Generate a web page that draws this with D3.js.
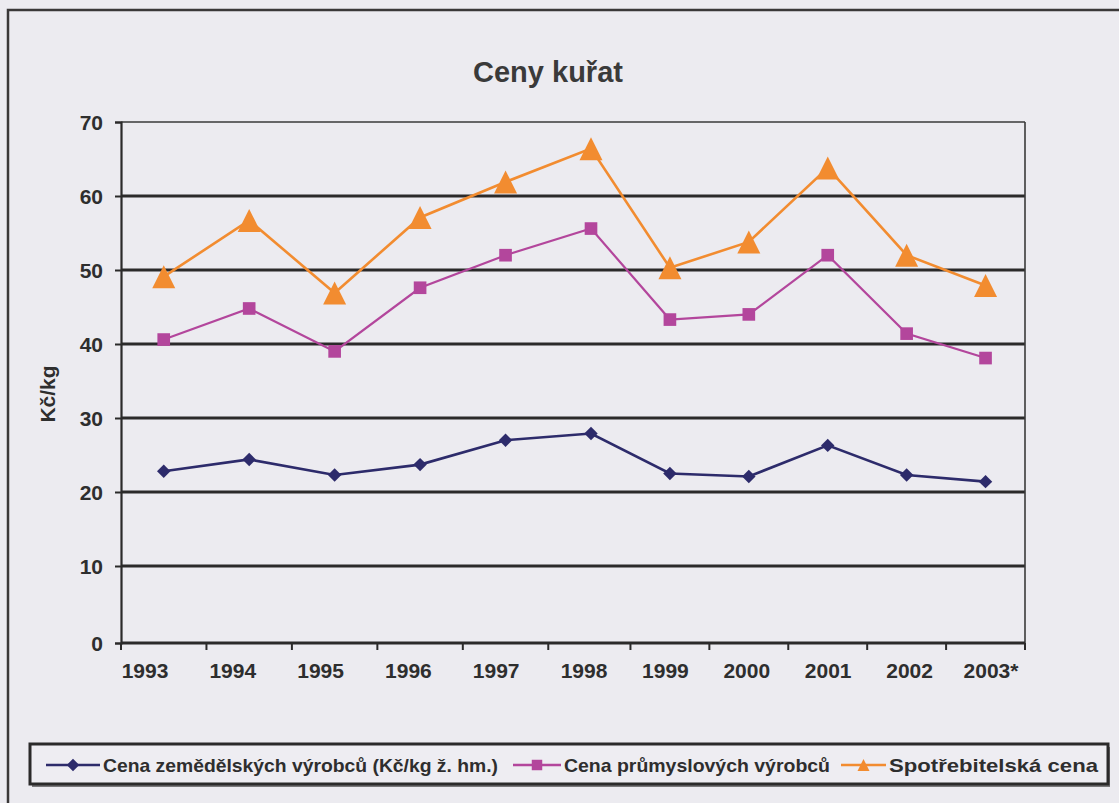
<!DOCTYPE html>
<html><head><meta charset="utf-8">
<script src="https://cdn.jsdelivr.net/npm/d3@7"></script>
<style>
html,body{margin:0;padding:0;background:#ecebf0;}
svg{display:block;font-family:"Liberation Sans",Arial,sans-serif;}
</style></head>
<body>
<svg id="c" width="1119" height="803"></svg>
<script>
const years = ["1993","1994","1995","1996","1997","1998","1999","2000","2001","2002","2003*"];
const zemedelske = [22.8,24.4,22.3,23.7,27.0,27.9,22.5,22.1,26.3,22.3,21.4];
const prumyslove = [40.6,44.8,39.0,47.6,52.0,55.6,43.3,44.0,52.0,41.4,38.1];
const spotrebitelska = [49.1,56.7,46.9,57.1,61.9,66.4,50.3,53.8,63.8,52.0,47.9];
const yTicks = [0,10,20,30,40,50,60,70];
const seriesNames = ["Cena zemědělských výrobců (Kč/kg ž. hm.)","Cena průmyslových výrobců","Spotřebitelská cena"];
const title = "Ceny kuřat";
const yLabel = "Kč/kg";

const svg = d3.select("#c");
const W = 1119, H = 803;
svg.append("rect").attr("width",W).attr("height",H).attr("fill","#ecebf0");
svg.append("rect").attr("x",8).attr("y",10).attr("width",W+20).attr("height",H+20)
  .attr("fill","none").attr("stroke","#3a3838").attr("stroke-width",2.5);

const L=121, R=1025, T=122, B=643;
const n = years.length;
// category index scale (slightly non-uniform, as in the scanned original)
const xi = d3.scaleLinear().domain([-0.5, 5, n-0.5]).range([L, 591, R]);
const xLabI = d3.scaleLinear().domain([0, 5, n-1]).range([145, 584, 991]);
const x = d => xi(years.indexOf(d));
const y = d3.scaleLinear().domain([0,10,70]).range([B,566,T]);

svg.append("text").attr("x",548).attr("y",82).attr("text-anchor","middle")
  .attr("font-size",29).attr("font-weight","bold").attr("fill","#3a3a3a").text(title);

const g = svg.append("g");
g.selectAll("line.grid").data(yTicks.filter(d=>d>0 && d<70)).join("line")
  .attr("x1",L).attr("x2",R).attr("y1",d=>y(d)).attr("y2",d=>y(d))
  .attr("stroke","#2b2a2a").attr("stroke-width",2.8);
g.append("line").attr("x1",L).attr("x2",R).attr("y1",y(70)).attr("y2",y(70)).attr("stroke","#3a3a3a").attr("stroke-width",1.6);
g.append("line").attr("x1",R).attr("x2",R).attr("y1",T).attr("y2",B).attr("stroke","#3a3a3a").attr("stroke-width",1.6);

const ya = svg.append("g").attr("transform",`translate(${L},0)`)
  .call(d3.axisLeft(y).tickValues(yTicks).tickSize(6).tickPadding(12).tickFormat(d3.format("d")));
ya.select(".domain").attr("stroke","#2b2a2a").attr("stroke-width",2.2);
ya.selectAll(".tick line").attr("stroke","#2b2a2a").attr("stroke-width",2);
ya.selectAll(".tick text").attr("font-size",21).attr("font-weight","bold").attr("fill","#2e2e2e")
  .attr("font-family","Liberation Sans, Arial, sans-serif").attr("dy","0.36em");

svg.append("line").attr("x1",L).attr("x2",R).attr("y1",B).attr("y2",B)
  .attr("stroke","#2b2a2a").attr("stroke-width",2.8);
const bounds = d3.range(n+1).map(i=>xi(i-0.5));
svg.append("g").selectAll("line").data(bounds).join("line")
  .attr("x1",d=>d).attr("x2",d=>d).attr("y1",B).attr("y2",B+7)
  .attr("stroke","#2b2a2a").attr("stroke-width",2);
svg.append("g").selectAll("text").data(years).join("text")
  .attr("x",(d,i)=>xLabI(i)).attr("y",678).attr("text-anchor","middle")
  .attr("font-size",21).attr("font-weight","bold").attr("fill","#2e2e2e").text(d=>d);

svg.append("text").attr("transform","translate(55,394) rotate(-90)").attr("text-anchor","middle")
  .attr("font-size",21).attr("font-weight","bold").attr("fill","#2e2e2e").text(yLabel);

const colors = ["#2d2b6b","#b3469c","#f28c30"];
const tri = (w,h) => ({draw(ctx){ ctx.moveTo(0,-h/2); ctx.lineTo(w/2,h/2); ctx.lineTo(-w/2,h/2); ctx.closePath(); }});
const sym = [d3.symbolDiamond2, d3.symbolSquare, tri(23,23)];
const sizes = [115,160,1];
const data = [zemedelske, prumyslove, spotrebitelska];
const widths = [2.6,2.2,2.6];

data.forEach((vals,i)=>{
  const pts = years.map((yr,j)=>[x(yr), y(vals[j])]);
  svg.append("path").attr("d",d3.line()(pts)).attr("fill","none")
    .attr("stroke",colors[i]).attr("stroke-width",widths[i]);
  svg.append("g").selectAll("path").data(pts).join("path")
    .attr("transform",p=>`translate(${p[0]},${p[1]})`)
    .attr("d",d3.symbol().type(sym[i]).size(sizes[i]))
    .attr("fill",colors[i]);
});

const lg = svg.append("g");
lg.append("rect").attr("x",32).attr("y",747).attr("width",1078).attr("height",40).attr("fill","#2f2d2d").attr("opacity",0.6);
lg.append("rect").attr("x",30).attr("y",744).attr("width",1078).attr("height",40)
  .attr("fill","#eeedf2").attr("stroke","#2b2a2a").attr("stroke-width",3);
const legItems = [
  {x1:46,x2:100,tx:103,tw:395},
  {x1:513,x2:561,tx:564,tw:266},
  {x1:841,x2:886,tx:889,tw:209}
];
const legSym = [d3.symbolDiamond2, d3.symbolSquare, tri(12,12)];
const legSizes = [100,110,1];
legItems.forEach((it,i)=>{
  const my = 765;
  lg.append("line").attr("x1",it.x1).attr("x2",it.x2).attr("y1",my).attr("y2",my)
    .attr("stroke",colors[i]).attr("stroke-width",2.6);
  lg.append("path").attr("transform",`translate(${(it.x1+it.x2)/2},${my})`)
    .attr("d",d3.symbol().type(legSym[i]).size(legSizes[i])).attr("fill",colors[i]);
  lg.append("text").attr("x",it.tx).attr("y",772).attr("font-size",19).attr("font-weight","bold")
    .attr("fill","#2e2e2e").attr("textLength",it.tw).attr("lengthAdjust","spacingAndGlyphs").text(seriesNames[i]);
});
</script>
</body></html>
